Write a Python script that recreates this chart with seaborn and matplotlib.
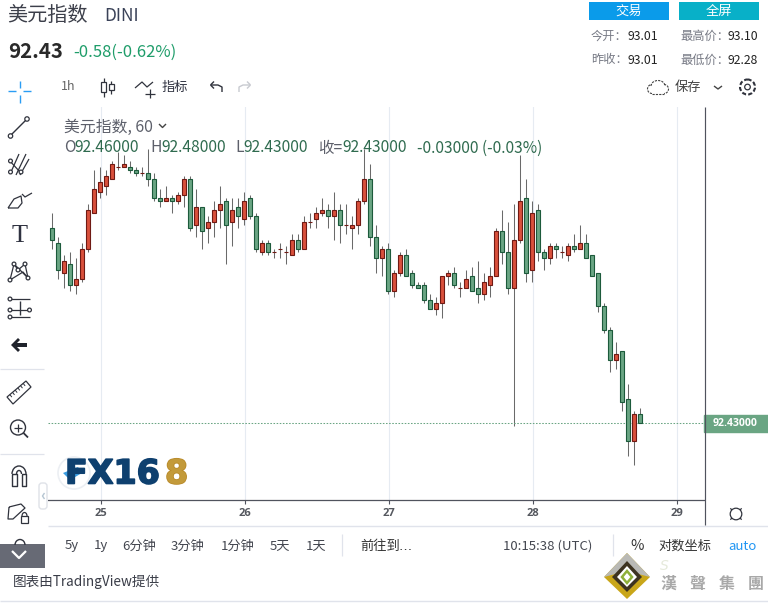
import numpy as np
import pandas as pd
import matplotlib
matplotlib.use("Agg")
import matplotlib.pyplot as plt
import seaborn as sns
from matplotlib.patches import Rectangle, Circle, Polygon, FancyBboxPatch, Arc
import matplotlib.patheffects as pe

# 60 minute candles
opens = [93.08, 93.03, 92.93, 92.96, 92.89, 92.91, 93.01, 93.13, 93.20, 93.22,
         93.24, 93.28, 93.28, 93.28, 93.27, 93.26, 93.26, 93.24, 93.18, 93.17,
         93.18, 93.17, 93.19, 93.24, 93.09, 93.15, 93.08, 93.10, 93.14, 93.17,
         93.10, 93.15, 93.11, 93.18, 93.12, 93.00, 93.03, 93.00, 93.01, 93.00,
         92.99, 93.04, 93.01, 93.10, 93.11, 93.13, 93.14, 93.12, 93.14, 93.09,
         93.08, 93.09, 93.17, 93.24, 93.05, 92.98, 93.01, 92.87, 92.93, 92.99,
         92.93, 92.89, 92.89, 92.84, 92.81, 92.83, 92.92, 92.93, 92.88, 92.88,
         92.92, 92.88, 92.86, 92.89, 92.92, 93.07, 93.00, 92.88, 93.04, 93.18,
         92.94, 93.14, 93.00, 92.98, 93.02, 93.00, 92.99, 93.02, 93.01, 93.03,
         92.99, 92.93, 92.82, 92.74, 92.64, 92.67, 92.51, 92.37, 92.46]
closes = [93.04, 92.94, 92.97, 92.89, 92.91, 93.01, 93.14, 93.21, 93.23, 93.25,
          93.29, 93.28, 93.29, 93.27, 93.26, 93.26, 93.24, 93.18, 93.17, 93.18,
          93.17, 93.19, 93.24, 93.08, 93.15, 93.07, 93.10, 93.14, 93.16, 93.09,
          93.14, 93.12, 93.17, 93.12, 93.01, 93.03, 93.00, 93.00, 93.01, 93.00,
          93.04, 93.01, 93.10, 93.10, 93.13, 93.14, 93.12, 93.14, 93.09, 93.09,
          93.09, 93.17, 93.24, 93.05, 92.98, 93.01, 92.87, 92.93, 92.99, 92.92,
          92.89, 92.88, 92.84, 92.81, 92.83, 92.92, 92.93, 92.89, 92.88, 92.91,
          92.87, 92.86, 92.90, 92.92, 93.07, 93.00, 92.88, 93.04, 93.17, 92.93,
          93.13, 93.00, 92.98, 93.02, 93.01, 93.00, 93.02, 93.01, 93.03, 92.98,
          92.92, 92.82, 92.74, 92.64, 92.66, 92.50, 92.37, 92.46, 92.43]
highs = [93.13, 93.05, 92.99, 93.00, 92.98, 93.03, 93.16, 93.27, 93.28, 93.27,
         93.30, 93.33, 93.32, 93.30, 93.28, 93.28, 93.34, 93.26, 93.21, 93.22,
         93.19, 93.20, 93.25, 93.25, 93.21, 93.15, 93.12, 93.17, 93.22, 93.18,
         93.18, 93.18, 93.20, 93.19, 93.13, 93.04, 93.04, 93.01, 93.03, 93.02,
         93.06, 93.06, 93.12, 93.13, 93.15, 93.18, 93.16, 93.20, 93.16, 93.16,
         93.12, 93.18, 93.34, 93.29, 93.09, 93.02, 93.03, 92.94, 93.00, 93.01,
         92.94, 92.90, 92.90, 92.86, 92.85, 92.92, 92.94, 92.95, 92.90, 92.94,
         92.95, 92.97, 92.93, 92.95, 93.08, 93.14, 93.10, 93.16, 93.32, 93.24,
         93.17, 93.16, 93.01, 93.03, 93.03, 93.02, 93.03, 93.06, 93.09, 93.06,
         92.99, 92.93, 92.83, 92.75, 92.70, 92.67, 92.56, 92.47, 92.48]
lows = [93.01, 92.91, 92.88, 92.87, 92.86, 92.90, 93.00, 93.13, 93.18, 93.19,
        93.24, 93.27, 93.28, 93.26, 93.25, 93.25, 93.22, 93.17, 93.15, 93.17,
        93.13, 93.16, 93.15, 93.07, 93.05, 93.01, 93.03, 93.05, 93.08, 92.96,
        93.02, 93.08, 93.09, 93.11, 93.00, 92.99, 92.99, 92.98, 92.98, 92.96,
        92.99, 93.00, 93.01, 93.08, 93.08, 93.12, 93.08, 93.04, 93.03, 93.06,
        93.01, 93.06, 93.16, 93.02, 92.93, 92.92, 92.86, 92.85, 92.92, 92.92,
        92.88, 92.88, 92.83, 92.81, 92.79, 92.78, 92.89, 92.88, 92.85, 92.88,
        92.87, 92.83, 92.84, 92.85, 92.92, 92.96, 92.86, 92.42, 93.03, 92.90,
        92.90, 92.97, 92.94, 92.96, 92.98, 92.98, 92.97, 93.00, 93.01, 92.98,
        92.92, 92.80, 92.73, 92.60, 92.61, 92.47, 92.32, 92.29, 92.43]

day_labels = ["25", "26", "27", "28", "29"]
day_positions = [8.17, 32.17, 56.17, 80.17, 104.17]

range_buttons = [("5y", 65), ("1y", 94), ("6分钟", 122), ("3分钟", 171),
                 ("1分钟", 221), ("5天", 270), ("1天", 306)]
quote_stats = [("今开：", "93.01", 591, 36), ("最高价：", "93.10", 680, 36),
               ("昨收：", "93.01", 591, 60), ("最低价：", "92.28", 680, 60)]

RED = "#d9503c"
RED_EDGE = "#6f1a14"
GREEN = "#6aa583"
GREEN_EDGE = "#1c5a3b"
WICK = "#6a6a6a"
AXIS = "#50535e"
GRID = "#e6ebf2"
TXT = "#50535e"
DARK = "#2f3240"

sns.set_theme(style="white")
plt.rcParams["font.family"] = ["Noto Sans CJK SC", "DejaVu Sans"]

W, H = 768, 604
fig = plt.figure(figsize=(W / 100, H / 100), dpi=100, facecolor="white")

# candle panel, placed in pixels
left, right, top, bottom = 48, 704, 107, 499.5
ax = fig.add_axes([left / W, 1 - bottom / H, (right - left) / W, (bottom - top) / H])

df = pd.DataFrame({"o": opens, "c": closes, "h": highs, "l": lows})
df["idx"] = df.index
df["lower"] = df[["o", "c"]].min(axis=1)
df["height"] = (df["o"] - df["c"]).abs()
df["up"] = df["c"] >= df["o"]

ax.vlines(day_positions, 92.0, 94.0, color=GRID, lw=0.8, zorder=0)
ax.vlines(df["idx"], df["l"], df["h"], color=WICK, lw=0.75, zorder=1)

last = closes[-1]
ax.axhline(last, color=GREEN, lw=0.75, ls=(0, (1.5, 1.5)), zorder=1.5)

for is_up, fill, edge in [(True, RED, RED_EDGE), (False, GREEN, GREEN_EDGE)]:
    part = df[df["up"] == is_up]
    sns.barplot(data=part, x="idx", y="height", bottom=part["lower"].values, ax=ax,
                native_scale=True, width=0.7, color=fill, saturation=1, errorbar=None,
                edgecolor=edge, linewidth=0.8, zorder=2)

ax.set_xlim((left - 52.3) / 6, (right - 52.3) / 6)
ax.set_ylim(92.43 - (bottom - 423.3) / 301, 92.43 + (423.3 - top) / 301)
ax.set_xticks(day_positions)
ax.set_xticklabels(day_labels, fontsize=8, fontweight="bold", color="#55585f",
                   family="Open Sans")
ax.set_yticks([])
ax.set_xlabel("")
ax.set_ylabel("")
ax.tick_params(axis="x", length=3, width=0.8, color=AXIS, pad=3, bottom=True)
for name, spine in ax.spines.items():
    spine.set_visible(name == "bottom")
ax.spines["bottom"].set_color(AXIS)
ax.spines["bottom"].set_linewidth(0.9)

# last price tag on the right edge
tag = Rectangle((1.0, last - 0.0285), 64 / (right - left), 0.057, transform=ax.get_yaxis_transform(),
                color=GREEN, clip_on=False, zorder=5)
ax.add_patch(tag)
ax.text(1.0 + 31 / (right - left), last, f"{last:.5f}", transform=ax.get_yaxis_transform(),
        color="white", fontsize=7.6, fontweight="bold", ha="center", va="center",
        family="Open Sans", clip_on=False, zorder=6)

# everything around the chart, in pixel coordinates
ui = fig.add_axes([0, 0, 1, 1], facecolor="none")
ui.set_xlim(0, W)
ui.set_ylim(H, 0)
ui.axis("off")


def txt(x, y, s, size=9.5, color=TXT, ha="left", **kw):
    ui.text(x, y, s, fontsize=size, color=color, ha=ha, va="center", **kw)


def line(xs, ys, color="#30333d", lw=1.0, **kw):
    ui.plot(xs, ys, color=color, lw=lw, solid_capstyle="butt", **kw)


def dot(x, y, r=2.2, color="#30333d", lw=0.9):
    ui.add_patch(Circle((x, y), r, fc="white", ec=color, lw=lw, zorder=4))


# frame lines
line([left, W], [525.5, 525.5], color="#e0e3eb", lw=1.0)
line([0, W], [601, 601], color="#e0e3eb", lw=1.0)
line([704.5, 704.5], [107, 525], color=AXIS, lw=0.85)
line([0, 44], [453.5, 453.5], color="#e0e3eb", lw=0.9)
line([0, 44], [368.5, 368.5], color="#e0e3eb", lw=0.9)
line([342, 342], [534, 556], color="#e0e3eb", lw=0.9)
line([613, 613], [534, 556], color="#e0e3eb", lw=0.9)

# header
txt(7.5, 15, "美元指数", size=14.5, color="#3c3f4a")
txt(104, 16, "DINI", size=12.4, color="#3a4258")
txt(8, 51, "92.43", size=14.7, color="#2a2a2a", fontweight="bold")
txt(73, 52, "-0.58(-0.62%)", size=12, color="#1f9d6a")

ui.add_patch(Rectangle((589, 2), 80, 18, color="#0a9bea", lw=0))
ui.add_patch(Rectangle((679, 2), 80, 18, color="#08b0c8", lw=0))
txt(629, 11, "交易", size=9.5, color="white", ha="center")
txt(719, 11, "全屏", size=9.5, color="white", ha="center")
for name, value, x, y in quote_stats:
    txt(x, y, name, size=8.8, color="#777a85")
    txt(x + 37 if len(name) == 3 else x + 48, y, value, size=8.8, color="#222222")

# top toolbar
txt(61, 87, "1h", size=9, color="#666")
line([103.5, 103.5], [78, 97], lw=0.9)
line([111, 111], [81, 94], lw=0.9)
ui.add_patch(Rectangle((101, 82), 5, 10, fc="white", ec="#30333d", lw=0.9, zorder=3))
ui.add_patch(Rectangle((108.5, 84), 5, 6, fc="white", ec="#30333d", lw=0.9, zorder=3))
line([135, 142, 147, 153], [88, 82, 87, 82], lw=0.9)
line([145, 155], [94, 94], lw=0.9)
line([150, 150], [89, 98], lw=0.9)
txt(162, 87, "指标", size=9.5, color=DARK)
line([211, 218, 222, 222], [85, 85, 87, 92], lw=1)
line([210.5, 214], [85, 81.5], lw=1)
line([210.5, 214], [85, 88.5], lw=1)
line([250, 243, 239, 239], [85, 85, 87, 92], color="#c8cad0", lw=1)
line([250.5, 247], [85, 81.5], color="#c8cad0", lw=1)
line([250.5, 247], [85, 88.5], color="#c8cad0", lw=1)

# save and settings
ui.add_patch(Arc((652, 89), 9, 9, theta1=90, theta2=270, ec="#444", lw=0.8, ls=(0, (2, 1))))
ui.add_patch(Arc((664, 89), 9, 9, theta1=-90, theta2=90, ec="#444", lw=0.8, ls=(0, (2, 1))))
ui.add_patch(Arc((658, 86), 14, 11, theta1=180, theta2=360, ec="#444", lw=0.8, ls=(0, (2, 1))))
line([652, 664], [93.5, 93.5], color="#444", lw=0.8, ls=(0, (2, 1)))
txt(675, 88, "保存", size=9.5, color="#444")
line([714, 718, 722], [86, 89, 86], color="#444", lw=1)
ui.add_patch(Circle((747.5, 87), 2.8, fc="white", ec="#30333d", lw=0.9))
ui.add_patch(Circle((747.5, 87), 7.5, fc="none", ec="#30333d", lw=1.5, ls=(0, (2, 1))))
ui.add_patch(Circle((736, 514), 5.8, fc="none", ec="#30333d", lw=0.9))
for a in np.arange(0, 360, 90) + 45:
    rad = np.deg2rad(a)
    line([736 + 5.5 * np.cos(rad), 736 + 8 * np.cos(rad)], [514 + 5.5 * np.sin(rad), 514 + 8 * np.sin(rad)], lw=0.9)

# legend rows
txt(64, 127, "美元指数, 60", size=11.4, color="#5d606b")
line([159, 162.5, 166], [124, 127.5, 124], color="#444", lw=1)
txt(64, 148, "O", size=11.2, color="#5d606b")
txt(74.5, 148, "92.46000", size=11.2, color="#2f6b4f")
txt(150, 148, "H", size=11.2, color="#5d606b")
txt(161, 148, "92.48000", size=11.2, color="#2f6b4f")
txt(235, 148, "L", size=11.2, color="#5d606b")
txt(243, 148, "92.43000", size=11.2, color="#2f6b4f")
txt(318, 148, "收=", size=11.2, color="#5d606b")
txt(342, 148, "92.43000", size=11.2, color="#2f6b4f")
txt(417, 148, "-0.03000 (-0.03%)", size=11.2, color="#2f6b4f")

# left drawing tools
line([8, 16], [91, 91], color="#2a9df4", lw=1)
line([23, 31], [91, 91], color="#2a9df4", lw=1)
line([19.5, 19.5], [81, 88], color="#2a9df4", lw=1)
line([19.5, 19.5], [95, 103], color="#2a9df4", lw=1)
line([10, 27], [136, 119], lw=1)
dot(10.5, 136)
dot(27, 119)
line([11, 19], [172, 154], lw=0.9)
line([16, 26], [175, 154], lw=0.9)
line([20, 29], [175, 159], lw=0.9)
line([9, 20], [160, 172], lw=0.9)
for cx, cy in [(10.5, 161), (10.5, 172), (21, 172)]:
    dot(cx, cy, 1.9)
line([8, 14, 21, 22, 18, 8], [208, 199, 196, 203, 208, 208], lw=0.9)
line([22, 25, 32], [194, 197, 193], lw=0.9)
txt(19.5, 235.5, "T", size=19, color=DARK, ha="center", family="Liberation Serif")
for seg in [([10, 14, 18, 25, 28, 23, 10], [280, 264, 270, 264, 278, 272, 280]), ([14, 28], [264, 278])]:
    line(seg[0], seg[1], lw=0.9)
for cx, cy in [(10, 280), (14, 264), (18, 270), (25, 264), (28, 278)]:
    dot(cx, cy, 1.9)
for yy in [299, 310, 317]:
    line([10, 30], [yy, yy], lw=0.9)
line([19.5, 19.5], [301, 315], lw=1)
for cx, cy in [(10, 299), (10, 310), (10, 317), (29.5, 310)]:
    dot(cx, cy, 1.9)
ui.add_patch(Polygon([[11, 345], [18, 338], [20, 340], [17, 343], [27, 343], [27, 347], [17, 347], [20, 350], [18, 352]],
                     fc="#20232c", ec="none"))
# ruler
ui.add_patch(Polygon([[7, 397], [26, 381], [31, 387], [13, 404]], fc="white", ec="#30333d", lw=0.9))
for t in np.linspace(0.15, 0.85, 6):
    x0 = 7 + (26 - 7) * t
    y0 = 397 + (381 - 397) * t
    line([x0, x0 + 2], [y0, y0 + 2.5], lw=0.7)
ui.add_patch(Circle((18, 427.5), 7.5, fc="white", ec="#30333d", lw=1))
line([14, 22], [427.5, 427.5], lw=0.9)
line([18, 18], [423.5, 431.5], lw=0.9)
line([23.5, 28], [433, 437.5], lw=1.3)
# magnet
ui.add_patch(Arc((19, 474), 14, 16, theta1=180, theta2=360, ec="#30333d", lw=1))
ui.add_patch(Arc((19, 474), 5, 7, theta1=180, theta2=360, ec="#30333d", lw=1))
line([12, 12, 16.5, 16.5, 12], [474, 486, 486, 474, 474], lw=1)
line([21.5, 21.5, 26, 26, 21.5], [474, 486, 486, 474, 474], lw=1)
# pencil and lock
line([9, 21, 25, 13, 8, 9], [507, 504, 508, 519, 519, 507], lw=0.9)
ui.add_patch(Rectangle((21, 516), 7, 7, fc="white", ec="#30333d", lw=0.9, zorder=3))
ui.add_patch(Arc((24.5, 516), 5, 7, theta1=180, theta2=360, ec="#30333d", lw=0.9))
# open lock and collapse tab
ui.add_patch(Rectangle((0, 544), 45, 24, color="#676a75", lw=0, zorder=2))
ui.add_patch(Arc((20, 545), 10, 11, theta1=180, theta2=360, ec="#30333d", lw=1, zorder=3))
line([12, 19, 26], [551, 558, 551], color="white", lw=1.6, zorder=4)
ui.add_patch(FancyBboxPatch((40, 484), 6, 24, boxstyle="round,pad=1,rounding_size=3", fc="white", ec="#dfe2e8", lw=1))
line([44.5, 42.5, 44.5], [493, 496, 499], color="#b5c5d2", lw=1)

# FX168 watermark
ui.add_patch(Circle((74, 473), 16, fc="none", ec="#eceff3", lw=1.2))
ui.add_patch(Polygon([[63, 473], [78, 467], [82, 473], [70, 480]], fc="#3a9ce0", ec="none"))
heavy_blue = [pe.withStroke(linewidth=1.2, foreground="#0e406f")]
heavy_gold = [pe.withStroke(linewidth=1.2, foreground="#b98a2a")]
ui.text(65, 474, "FX16", fontsize=24, fontweight="bold", color="#0e406f", va="center",
        family="DejaVu Sans", path_effects=heavy_blue)
ui.text(165, 474, "8", fontsize=24, fontweight="bold", color="#c39a3a", va="center",
        family="DejaVu Sans", path_effects=heavy_gold)

# range bar
for label, x in range_buttons:
    txt(x, 546, label, size=9.5, color="#444750")
txt(360, 546, "前往到", size=9.5, color="#333")
txt(399, 546, "…", size=9.5, color="#333", family="DejaVu Sans")
txt(503, 546, "10:15:38 (UTC)", size=9.5, color="#444750")
txt(630, 546, "%", size=10.5, color="#333")
txt(658, 546, "对数坐标", size=9.5, color="#333")
txt(728, 546, "auto", size=9.5, color="#2196f3")
txt(13, 582, "图表由TradingView提供", size=9.8, color="#3a3d48")

# bottom right group logo
ui.add_patch(Polygon([[627, 553], [650, 577], [627, 599], [604, 577]], fc="#c9a619", ec="none", zorder=3))
ui.add_patch(Polygon([[627, 553], [650, 577], [627, 571], [604, 577]], fc="#b9b9b5", ec="none", zorder=3))
ui.add_patch(Polygon([[627, 561], [642, 577], [627, 592], [612, 577]], fc="#3d3320", ec="none", zorder=4))
ui.add_patch(Polygon([[627, 566], [637, 577], [627, 587], [617, 577]], fc="white", ec="none", zorder=5))
ui.add_patch(Polygon([[627, 571], [632, 577], [627, 583], [622, 577]], fc="white", ec="#8fb03a", lw=1.8, zorder=6))
for s, x in zip("漢聲集團", [668, 697, 727, 756]):
    ui.text(x, 584, s, fontsize=11.5, fontweight="bold", color="#a8a8a8", ha="center", va="center", family="Noto Sans CJK TC")
ui.text(664, 566, "S", fontsize=10, color="#e6eadb", ha="center", va="center", family="DejaVu Sans", style="italic")

fig.savefig("out.png", dpi=100, facecolor="white")
